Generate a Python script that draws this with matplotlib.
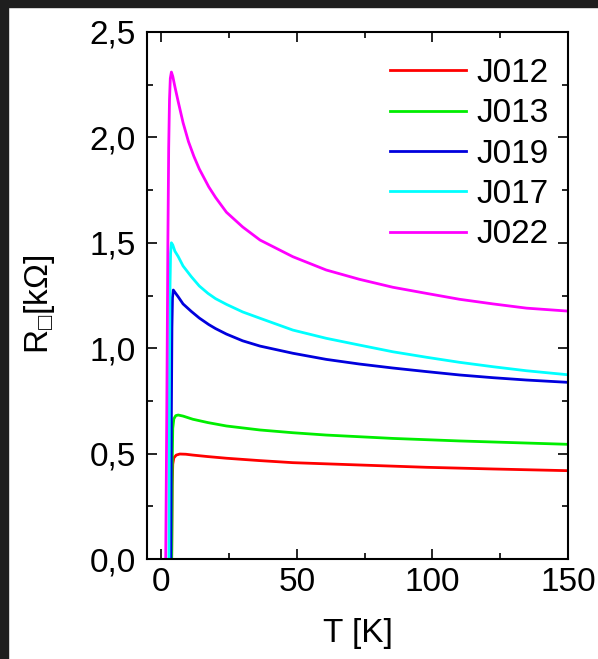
import matplotlib
matplotlib.use("Agg")
import matplotlib.pyplot as plt
from matplotlib.patches import Rectangle
from matplotlib.ticker import MultipleLocator, FuncFormatter

plt.rcParams['font.family'] = ['Liberation Sans', 'DejaVu Sans']

# sheet resistance (kOhm) vs temperature (K) for each sample
t_j012 = [3.8, 4.0, 4.2, 4.6, 5.5, 6.8, 9, 11.6, 17, 24, 36, 48.5, 73, 97.8, 122.4, 150]
r_j012 = [0.0, 0.35, 0.45, 0.48, 0.493, 0.498, 0.497, 0.493, 0.486, 0.478, 0.467, 0.457, 0.446, 0.435, 0.427, 0.419]

t_j013 = [3.8, 4.0, 4.2, 4.6, 5.3, 6.2, 8, 11.6, 17.2, 24, 36.4, 48.5, 60.8, 85.4, 110, 150]
r_j013 = [0.0, 0.45, 0.62, 0.665, 0.68, 0.683, 0.678, 0.663, 0.647, 0.631, 0.612, 0.599, 0.588, 0.572, 0.560, 0.544]

t_j019 = [3.5, 3.7, 3.9, 4.1, 4.4, 5, 6.2, 8, 11, 14, 17.5, 20, 24, 30, 36.4, 48.5, 60.8, 73, 85.4, 97.8, 110, 122.4, 134.7, 150]
r_j019 = [0.0, 0.7, 1.1, 1.24, 1.276, 1.265, 1.244, 1.21, 1.175, 1.143, 1.112, 1.093, 1.067, 1.035, 1.010, 0.976, 0.947, 0.925, 0.906, 0.889, 0.873, 0.860, 0.849, 0.838]

t_j017 = [2.8, 3.0, 3.2, 3.4, 3.7, 4.2, 5, 6.2, 8, 11, 14, 17.2, 20, 24, 30, 36.4, 48.5, 60.8, 73, 85.4, 97.8, 110, 122.4, 134.7, 150]
r_j017 = [0.0, 0.9, 1.3, 1.45, 1.50, 1.49, 1.46, 1.435, 1.39, 1.34, 1.295, 1.26, 1.235, 1.208, 1.172, 1.142, 1.086, 1.047, 1.015, 0.983, 0.957, 0.933, 0.912, 0.893, 0.874]

t_j022 = [1.6, 2.0, 2.4, 2.7, 3.0, 3.3, 3.7, 4.2, 5, 6.2, 8, 10, 12, 14, 17.5, 20, 24, 30, 36.4, 48.5, 60.8, 73, 85.4, 97.8, 110, 122.4, 134.7, 150]
r_j022 = [0.0, 0.7, 1.5, 1.95, 2.18, 2.28, 2.31, 2.29, 2.24, 2.17, 2.07, 1.98, 1.91, 1.85, 1.765, 1.715, 1.645, 1.575, 1.513, 1.434, 1.371, 1.327, 1.289, 1.26, 1.232, 1.21, 1.19, 1.176]

samples = ['J012', 'J013', 'J019', 'J017', 'J022']
colors = ['#ff0000', '#00ee00', '#0000dd', '#00ffff', '#ff00ff']

fig = plt.figure(figsize=(5.98, 6.59), dpi=100)
ax = fig.add_axes([147 / 598, 1 - 559 / 659, 421 / 598, 527 / 659])

series = [(t_j012, r_j012), (t_j013, r_j013), (t_j019, r_j019), (t_j017, r_j017), (t_j022, r_j022)]
for (t, r), name, c in zip(series, samples, colors):
    ax.plot(t, r, color=c, lw=2, label=name, solid_joinstyle='round')

ax.set_xlim(-5.3, 150)
ax.set_ylim(0, 2.5)
ax.xaxis.set_major_locator(MultipleLocator(50))
ax.xaxis.set_minor_locator(MultipleLocator(25))
ax.yaxis.set_major_locator(MultipleLocator(0.5))
ax.yaxis.set_minor_locator(MultipleLocator(0.25))
ax.yaxis.set_major_formatter(FuncFormatter(lambda v, p: f"{v:.1f}".replace('.', ',')))

ax.tick_params(which='both', direction='in', top=True, right=True, width=1.2, labelsize=24)
ax.tick_params(which='major', length=7)
ax.tick_params(which='minor', length=4)
ax.tick_params(axis='x', pad=6)
ax.tick_params(axis='y', pad=8)
for s in ax.spines.values():
    s.set_linewidth(1.5)

ax.set_xlabel('T [K]', fontsize=24, labelpad=14)
ax.set_ylabel('R$_\\mathregular{□}$[kΩ]', fontsize=24)
ax.yaxis.set_label_coords(-0.214, 0.484)

ax.legend(loc='upper left', bbox_to_anchor=(0.5456, 0.976), frameon=False, fontsize=24,
          handlelength=2.28, handletextpad=0.3, labelspacing=0.28, borderaxespad=0)

# dark strips along the top and left edges
fig.patches.append(Rectangle((0, 1 - 7 / 659), 1, 7 / 659, transform=fig.transFigure,
                             color='#1e1e1e', zorder=-1))
fig.patches.append(Rectangle((0, 0), 8 / 598, 1, transform=fig.transFigure,
                             color='#1e1e1e', zorder=-1))

fig.savefig('out.png', dpi=100)
